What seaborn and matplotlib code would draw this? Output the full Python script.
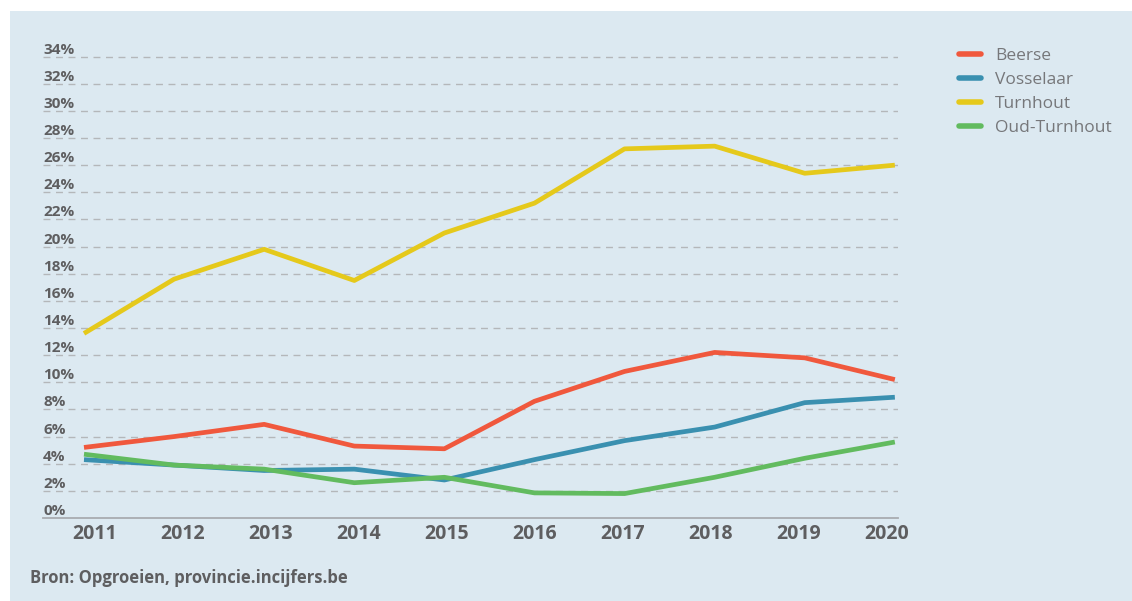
import matplotlib
matplotlib.use('Agg')
import matplotlib.pyplot as plt
import matplotlib.patches as mpatches
import matplotlib.transforms as mtransforms
import pandas as pd
import seaborn as sns

# data (percent)
years = [2011, 2012, 2013, 2014, 2015, 2016, 2017, 2018, 2019, 2020]
beerse = [5.2, 6.0, 6.9, 5.3, 5.1, 8.6, 10.8, 12.2, 11.8, 10.2]
vosselaar = [4.3, 3.9, 3.5, 3.6, 2.8, 4.3, 5.7, 6.7, 8.5, 8.9]
turnhout = [13.6, 17.6, 19.8, 17.5, 21.0, 23.2, 27.2, 27.4, 25.4, 26.0]
oud_turnhout = [4.7, 3.9, 3.6, 2.6, 3.0, 1.85, 1.8, 3.0, 4.4, 5.6]
gemeenten = ['Beerse', 'Vosselaar', 'Turnhout', 'Oud-Turnhout']
y_ticks = list(range(0, 35, 2))

kleuren = ['#f0583d', '#3a90b0', '#e5c91b', '#62bb5f']
bg = '#dce9f1'
tekst = '#5e5e60'

df = pd.DataFrame({'jaar': years, 'Beerse': beerse, 'Vosselaar': vosselaar,
                   'Turnhout': turnhout, 'Oud-Turnhout': oud_turnhout})
df = df.melt(id_vars='jaar', var_name='gemeente', value_name='pct')

sns.set_style('white')
plt.rcParams['font.family'] = ['Open Sans', 'DejaVu Sans']

fig = plt.figure(figsize=(11.32, 6.01), dpi=100)
fig.patch.set_facecolor('white')
# light blue panel behind the chart
fig.add_artist(mpatches.Rectangle((10 / 1132, 0), 1 - 10 / 1132, 1 - 11 / 601,
                                  transform=fig.transFigure, facecolor=bg,
                                  edgecolor='none', zorder=-10))

ax = fig.add_axes([43 / 1132, 1 - 518 / 601, (898 - 43) / 1132, (518 - 43) / 601])
ax.set_facecolor('none')

sns.lineplot(data=df, x='jaar', y='pct', hue='gemeente', hue_order=gemeenten,
             palette=kleuren, linewidth=3.4, ax=ax, legend=False)
for ln in ax.lines:
    ln.set_solid_joinstyle('round')
    ln.set_solid_capstyle('butt')

ax.set_xlim(2010.545, 2020.035)
ax.set_ylim(0, 35)

# dashed gridlines with labels sitting on top of them
for v in y_ticks:
    if v > 0:
        ax.axhline(v, color='#b4b7ba', lw=1, ls=(0, (5, 4)), zorder=0)
    ax.text(0, v, f'{v}%', transform=ax.get_yaxis_transform(), ha='left',
            va='bottom', fontsize=11, fontweight='bold', color=tekst)
ax.set_yticks([])

ax.set_xticks(years)
ax.set_xticklabels([str(j) for j in years], fontsize=14, fontweight='bold', color=tekst)
ax.tick_params(axis='x', length=0, pad=4)
# labels in the reference are spread slightly narrower than the data points
n = len(years)
for i, lab in enumerate(ax.get_xticklabels()):
    dx = (11 - 19 * i / (n - 1)) / 100
    lab.set_transform(lab.get_transform() + mtransforms.ScaledTranslation(dx, 0, fig.dpi_scale_trans))
ax.set_xlabel('')
ax.set_ylabel('')

for s in ['top', 'right', 'left']:
    ax.spines[s].set_visible(False)
ax.spines['bottom'].set_color('#a9abb0')
ax.spines['bottom'].set_linewidth(1.3)

handles = [plt.Line2D([], [], color=c, lw=4) for c in kleuren]
leg = fig.legend(handles, gemeenten, loc='upper left', bbox_to_anchor=(943 / 1132, 1 - 32 / 601),
                 frameon=False, fontsize=12.5, handlelength=1.3, handletextpad=0.8,
                 labelspacing=0.45, labelcolor='#76777a')

fig.text(30 / 1132, 1 - 578 / 601, 'Bron: Opgroeien, provincie.incijfers.be', fontsize=12,
         fontweight='bold', color=tekst, ha='left', va='center')

fig.savefig('out.png', dpi=100, facecolor=fig.get_facecolor())
